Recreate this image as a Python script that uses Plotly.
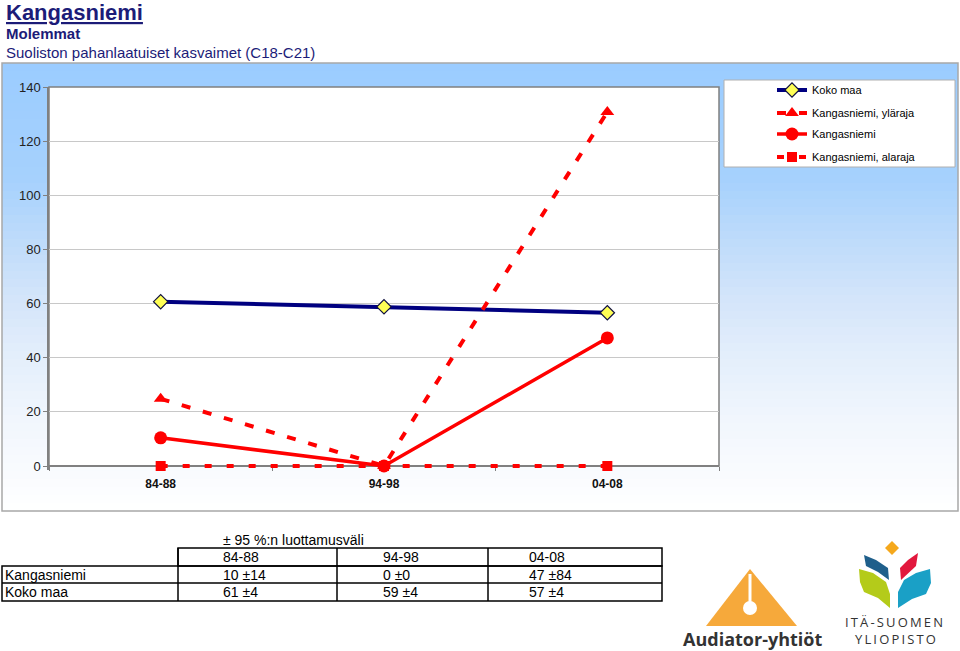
import plotly.graph_objects as go

W, H = 960, 651

# ---------------- data ----------------
periods = ["84-88", "94-98", "04-08"]
koko_maa = [60.7, 58.8, 56.6]
koko_maa_ci = [4, 4, 4]
kangas = [10.4, 0, 47.3]
kangas_ci = [14, 0, 84]
kangas_upper = [24.8, 0, 130.8]
kangas_lower = [0, 0, 0]
y_ticks = [0, 20, 40, 60, 80, 100, 120, 140]
y_min, y_max = -1.6, 140

title_main = "Kangasniemi"
title_sub1 = "Molemmat"
title_sub2 = "Suoliston pahanlaatuiset kasvaimet (C18-C21)"
table_caption = "± 95 %:n luottamusväli"
row_names = ["Kangasniemi", "Koko maa"]


def X(px):
    return px / W


def Y(py):
    return 1 - py / H


def path(points, close=True):
    s = "M " + " L ".join(f"{X(x):.5f},{Y(y):.5f}" for x, y in points)
    return s + (" Z" if close else "")


# plot area in pixels (PB = pixel of value 0)
PL, PR, PT, PB = 49, 719, 87, 466
px_per_unit = (PB - PT) / y_max
PB_ext = PB - y_min * px_per_unit  # slightly below 0 so lines at 0 are not clipped

fig = go.Figure()

RED = "#FF0000"
NAVY = "#000080"

fig.add_trace(go.Scatter(
    x=periods, y=koko_maa, name="Koko maa", mode="lines+markers",
    line=dict(color=NAVY, width=4),
    marker=dict(symbol="diamond", size=11, color="#FFFF55", line=dict(color="#101040", width=1.2)),
    cliponaxis=False, legend="legend"))
fig.add_trace(go.Scatter(
    x=periods, y=kangas_upper, name="Kangasniemi, yläraja", mode="lines+markers",
    line=dict(color=RED, width=4, dash="9px,13px"),
    marker=dict(symbol="triangle-up", size=12, color=RED),
    cliponaxis=False, legend="legend2"))
fig.add_trace(go.Scatter(
    x=periods, y=kangas, name="Kangasniemi", mode="lines+markers",
    line=dict(color=RED, width=3.5),
    marker=dict(symbol="circle", size=13, color=RED),
    cliponaxis=False, legend="legend3"))
fig.add_trace(go.Scatter(
    x=periods, y=kangas_lower, name="Kangasniemi, alaraja", mode="lines+markers",
    line=dict(color=RED, width=4, dash="7px,15px"),
    marker=dict(symbol="square", size=10, color=RED),
    cliponaxis=False, legend="legend4"))

shapes = []

# chart-area gradient background (vertical bands)
stops = [(63, (155, 204, 255)), (180, (166, 209, 253)), (250, (194, 221, 250)),
         (300, (212, 229, 250)), (350, (226, 237, 251)), (420, (241, 246, 253)),
         (511, (255, 255, 255))]


def col_at(y):
    for (y0, c0), (y1, c1) in zip(stops[:-1], stops[1:]):
        if y0 <= y <= y1:
            t = (y - y0) / (y1 - y0)
            return tuple(round(a + (b - a) * t) for a, b in zip(c0, c1))
    return stops[-1][1]


band = 8
y = 63
while y < 511:
    y2 = min(y + band, 511)
    c = col_at((y + y2) / 2)
    shapes.append(dict(type="rect", xref="paper", yref="paper", layer="below",
                       x0=X(2), x1=X(958), y0=Y(y), y1=Y(y2 + 0.6),
                       fillcolor=f"rgb{c}", line=dict(width=0)))
    y = y2
# chart-area border
shapes.append(dict(type="rect", xref="paper", yref="paper", layer="below",
                   x0=X(2), x1=X(958), y0=Y(63), y1=Y(511),
                   fillcolor="rgba(0,0,0,0)", line=dict(color="#A8A8A8", width=1.5)))
# plot area: white with grey frame
shapes.append(dict(type="rect", xref="paper", yref="paper", layer="below",
                   x0=X(PL), x1=X(PR), y0=Y(PT), y1=Y(PB),
                   fillcolor="white", line=dict(color="#808080", width=1.5)))
# legend box
shapes.append(dict(type="rect", xref="paper", yref="paper", layer="below",
                   x0=X(724), x1=X(955), y0=Y(80), y1=Y(167),
                   fillcolor="white", line=dict(color="#B0B0B0", width=1)))

# ---------------- table ----------------
TC = [178, 337, 488, 662]
TR = [548, 566, 583, 601]
lc = dict(color="black", width=1.5)
shapes.append(dict(type="rect", xref="paper", yref="paper", x0=X(TC[0]), x1=X(TC[3]),
                   y0=Y(TR[0]), y1=Y(TR[1]), line=lc))
shapes.append(dict(type="rect", xref="paper", yref="paper", x0=X(2), x1=X(TC[3]),
                   y0=Y(TR[1]), y1=Y(TR[3]), line=lc))
shapes.append(dict(type="line", xref="paper", yref="paper", x0=X(2), x1=X(TC[3]),
                   y0=Y(TR[2]), y1=Y(TR[2]), line=lc))
for cx in TC[:3]:
    shapes.append(dict(type="line", xref="paper", yref="paper", x0=X(cx), x1=X(cx),
                       y0=Y(TR[0]), y1=Y(TR[3]), line=lc))

annotations = []
TF = dict(family="Liberation Sans, Arial", size=14, color="black")


def txt(x, y, s, font, xanchor="left"):
    annotations.append(dict(x=X(x), y=Y(y), xref="paper", yref="paper", text=s,
                            showarrow=False, xanchor=xanchor, yanchor="middle",
                            font=font))


txt(TC[0] + 43, 540, table_caption, TF)
text_x = [TC[0] + 43, TC[1] + 44, TC[2] + 39]
for i, p in enumerate(periods):
    txt(text_x[i], (TR[0] + TR[1]) / 2, p, TF)
rows = [(kangas, kangas_ci), (koko_maa, koko_maa_ci)]
for r, (vals, cis) in enumerate(rows):
    yc = (TR[r + 1] + TR[r + 2]) / 2
    txt(3, yc, row_names[r], TF)
    for i in range(3):
        txt(text_x[i], yc, f"{round(vals[i])} ±{round(cis[i])}", TF)

# ---------------- titles ----------------
NAVYT = "#1C1C78"
txt(4, 13, f"<b><u>{title_main}</u></b>", dict(family="Liberation Sans, Arial", size=22, color=NAVYT))
txt(4, 33, f"<b>{title_sub1}</b>", dict(family="Liberation Sans, Arial", size=15, color=NAVYT))
txt(4, 52, title_sub2, dict(family="Liberation Sans, Arial", size=15, color=NAVYT))

# ---------------- logos ----------------
ORANGE = "#F6A93B"
shapes.append(dict(type="path", xref="paper", yref="paper",
                   path=path([(750, 569), (797, 626), (706, 626)]),
                   fillcolor=ORANGE, line=dict(width=0)))
shapes.append(dict(type="line", xref="paper", yref="paper", x0=X(750), x1=X(750),
                   y0=Y(574), y1=Y(606), line=dict(color="white", width=3)))
shapes.append(dict(type="circle", xref="paper", yref="paper", x0=X(743), x1=X(757),
                   y0=Y(601), y1=Y(615), fillcolor="white", line=dict(width=0)))
txt(752, 639, "<b>Audiator-yhtiöt</b>", dict(family="Open Sans, Liberation Sans", size=18, color="#333333"),
    xanchor="center")

# ITÄ-SUOMEN logo petals
shapes.append(dict(type="path", xref="paper", yref="paper",
                   path=path([(892, 541), (899, 548), (892, 555), (885, 548)]),
                   fillcolor="#F5A81C", line=dict(width=0)))
shapes.append(dict(type="path", xref="paper", yref="paper",
                   path=path([(864, 555), (876, 560), (888, 568), (889, 580), (878, 572), (866, 566)]),
                   fillcolor="#1F5F8B", line=dict(width=0)))
shapes.append(dict(type="path", xref="paper", yref="paper",
                   path=path([(918, 553), (916, 566), (901, 580), (900, 568), (908, 560)]),
                   fillcolor="#E2183D", line=dict(width=0)))
shapes.append(dict(type="path", xref="paper", yref="paper",
                   path=path([(859, 569), (873, 573), (886, 582), (890, 594), (890, 608), (878, 598), (864, 592), (860, 582)]),
                   fillcolor="#B4CB1A", line=dict(width=0)))
shapes.append(dict(type="path", xref="paper", yref="paper",
                   path=path([(930, 569), (931, 583), (926, 594), (912, 599), (898, 608), (898, 592), (904, 580), (916, 573)]),
                   fillcolor="#1AA0C6", line=dict(width=0)))
thin = "\u2009"
txt(894, 622, thin.join("ITÄ-SUOMEN"), dict(family="Open Sans, Liberation Sans", size=13, color="#333333"),
    xanchor="center")
txt(895, 639, thin.join("YLIOPISTO"), dict(family="Open Sans, Liberation Sans", size=13, color="#333333"),
    xanchor="center")

# ---------------- legends ----------------
leg_font = dict(family="Liberation Sans, Arial", size=11, color="black")


def legend_at(py):
    return dict(x=X(772), y=Y(py), xanchor="left", yanchor="middle", bgcolor="rgba(0,0,0,0)",
                borderwidth=0, font=leg_font, orientation="v")


fig.update_layout(
    width=W, height=H, template="none",
    margin=dict(l=0, r=0, t=0, b=0),
    paper_bgcolor="white", plot_bgcolor="white",
    showlegend=True,
    legend=legend_at(90), legend2=legend_at(113), legend3=legend_at(134), legend4=legend_at(157),
    xaxis=dict(domain=[X(PL), X(PR)], type="category", range=[-0.5, 2.5],
               anchor="free", position=Y(PB), layer="below traces",
               showgrid=False, zeroline=False, showline=True, linecolor="#808080", linewidth=1.5,
               ticks="outside", tickson="boundaries", ticklen=4, tickcolor="#808080",
               ticklabelstandoff=7,
               tickfont=dict(family="Liberation Sans, Arial", size=12, color="#111111", weight="bold"),
               automargin=False, fixedrange=True),
    yaxis=dict(domain=[Y(PB_ext), Y(PT)], range=[y_min, y_max], tickvals=y_ticks,
               layer="below traces",
               showgrid=True, gridcolor="#C8C8C8", gridwidth=1, zeroline=False,
               showline=True, linecolor="#808080", linewidth=1.5, mirror=False,
               ticks="outside", ticklen=4, tickcolor="#808080",
               tickfont=dict(family="Liberation Sans, Arial", size=13, color="#222222"),
               automargin=False, fixedrange=True),
    shapes=shapes, annotations=annotations,
)

fig.write_html(
    "out.html",
    config=dict(displayModeBar=False),
    post_script="document.body.style.margin='0';document.body.style.padding='0';"
                "document.body.style.overflow='hidden';",
)
